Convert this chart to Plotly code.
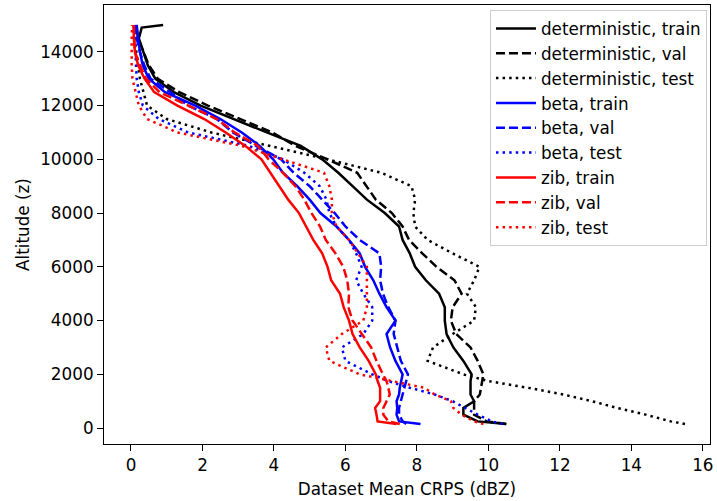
import plotly.graph_objects as go

altitude = [150, 250, 500, 750, 1000, 1250, 1500, 1750, 2000, 2500, 3000, 3500, 4000, 4500,
            5000, 5500, 6000, 6500, 7000, 7500, 8000, 8500, 9000, 9500, 10000, 10500, 11000,
            11500, 12000, 12500, 13000, 13500, 14000, 14500, 14900, 15000]

det_train = [10.5, 9.7, 9.3, 9.3, 9.6, 9.5, 9.5, 9.5, 9.53, 9.3, 9.02, 8.83, 8.78, 8.78,
             8.62, 8.25, 7.95, 7.8, 7.6, 7.5, 7.1, 6.6, 6.2, 5.8, 5.35, 4.75, 3.8,
             2.9, 1.95, 1.2, 0.68, 0.47, 0.35, 0.22, 0.3, 0.9]
det_val = [10.5, 9.95, 9.6, 9.6, 9.6, 9.76, 9.8, 9.82, 9.86, 9.7, 9.5, 9.1, 8.95, 9.0,
           9.25, 9.05, 8.55, 8.15, 7.78, 7.6, 7.3, 6.85, 6.6, 6.33, 5.5, 4.6, 3.95,
           3.05, 2.15, 1.35, 0.75, 0.5, 0.35, 0.2, 0.15, 0.15]
det_test = [15.5, 15.1, 14.4, 13.6, 12.9, 12.1, 11.1, 10.0, 9.3, 8.3, 8.45, 9.0, 9.6, 9.65,
            9.4, 9.6, 9.75, 9.0, 8.3, 7.95, 7.9, 7.95, 7.85, 7.0, 5.5, 3.9, 2.25,
            1.0, 0.45, 0.35, 0.25, 0.2, 0.15, 0.1, 0.1, 0.1]

beta_train = [8.1, 7.5, 7.43, 7.45, 7.43, 7.5, 7.52, 7.55, 7.6, 7.4, 7.25, 7.15, 7.4, 7.15,
              6.95, 6.78, 6.55, 6.4, 6.1, 5.75, 5.3, 5.0, 4.65, 4.25, 3.98, 3.6, 3.1,
              2.5, 1.8, 0.95, 0.5, 0.33, 0.25, 0.2, 0.16, 0.16]
beta_val = [7.7, 7.6, 7.5, 7.5, 7.55, 7.6, 7.65, 7.7, 7.75, 7.55, 7.45, 7.35, 7.4, 7.2,
            7.05, 6.97, 7.0, 6.95, 6.4, 6.0, 5.7, 5.35, 5.0, 4.55, 4.2, 3.5, 2.85,
            2.4, 1.6, 1.1, 0.55, 0.37, 0.25, 0.16, 0.11, 0.11]
beta_test = [10.4, 10.1, 9.7, 9.35, 9.0, 8.5, 7.8, 7.2, 6.75, 6.0, 5.9, 6.5, 6.75, 6.75,
             6.5, 6.3, 6.45, 6.3, 6.1, 5.75, 5.55, 5.47, 5.28, 4.85, 4.25, 3.3, 1.6,
             0.78, 0.33, 0.22, 0.16, 0.14, 0.12, 0.11, 0.1, 0.1]

zib_train = [7.43, 6.9, 6.87, 6.83, 6.97, 6.97, 6.97, 6.9, 6.85, 6.65, 6.4, 6.2, 6.1, 5.95,
             5.85, 5.6, 5.5, 5.35, 5.1, 4.9, 4.7, 4.4, 4.15, 3.88, 3.65, 3.2, 2.65,
             2.05, 1.3, 0.65, 0.38, 0.2, 0.11, 0.08, 0.07, 0.07]
zib_val = [7.52, 7.2, 7.06, 7.06, 7.15, 7.24, 7.2, 7.15, 7.05, 6.87, 6.72, 6.45, 6.2, 6.08,
           6.1, 6.05, 5.94, 5.72, 5.45, 5.29, 5.05, 4.85, 4.6, 4.25, 3.85, 3.55, 2.9,
           2.4, 1.6, 0.8, 0.42, 0.25, 0.11, 0.09, 0.08, 0.08]
zib_test = [9.86, 9.6, 9.25, 9.02, 8.95, 8.5, 8.2, 7.3, 6.4, 5.55, 5.45, 5.9, 6.5, 6.6,
            6.6, 6.62, 6.6, 6.35, 6.1, 5.75, 5.62, 5.62, 5.55, 5.4, 4.25, 3.1, 1.3,
            0.45, 0.22, 0.12, 0.04, 0.02, 0.01, 0.02, 0.03, 0.03]

x_ticks = [0, 2, 4, 6, 8, 10, 12, 14, 16]
y_ticks = [0, 2000, 4000, 6000, 8000, 10000, 12000, 14000]

DASH = "9px,4px"
DOT = "2.5px,4.1px"
series = [
    ("deterministic, train", det_train, "black", "solid"),
    ("deterministic, val", det_val, "black", DASH),
    ("deterministic, test", det_test, "black", DOT),
    ("beta, train", beta_train, "blue", "solid"),
    ("beta, val", beta_val, "blue", DASH),
    ("beta, test", beta_test, "blue", DOT),
    ("zib, train", zib_train, "red", "solid"),
    ("zib, val", zib_val, "red", DASH),
    ("zib, test", zib_test, "red", DOT),
]

fig = go.Figure()
for name, xs, color, dash in series:
    fig.add_trace(go.Scatter(
        x=xs, y=altitude, mode="lines", name=name,
        line=dict(color=color, width=2.5, dash=dash),
    ))

font = dict(family="DejaVu Sans", size=16.8, color="black")
axis_common = dict(
    showline=True, linecolor="black", linewidth=1.3, mirror=True,
    ticks="outside", ticklen=5.9, tickwidth=1.3, tickcolor="black",
    showgrid=False, zeroline=False, tickfont=font, ticklabeloverflow="allow",
    automargin=False,
)
fig.update_layout(
    width=717, height=501,
    margin=dict(l=104, r=7, t=5, b=57),
    paper_bgcolor="white", plot_bgcolor="white",
    font=font,
    showlegend=True,
    legend=dict(
        x=0.995, y=0.9886, xanchor="right", yanchor="top",
        bordercolor="#cccccc", borderwidth=1, bgcolor="white",
        font=font, itemwidth=40,
    ),
    xaxis=dict(range=[-0.755, 16.2], tickvals=x_ticks, ticktext=[str(v) for v in x_ticks],
               title=dict(text="Dataset Mean CRPS (dBZ)", font=font, standoff=9),
               **axis_common),
    yaxis=dict(range=[-592, 15742], tickvals=y_ticks, ticktext=[str(v) for v in y_ticks],
               title=dict(text="Altitude (z)", font=font, standoff=6),
               **axis_common),
)

fig.write_html("out.html", config={"displayModeBar": False},
               post_script="document.body.style.margin='0';")
